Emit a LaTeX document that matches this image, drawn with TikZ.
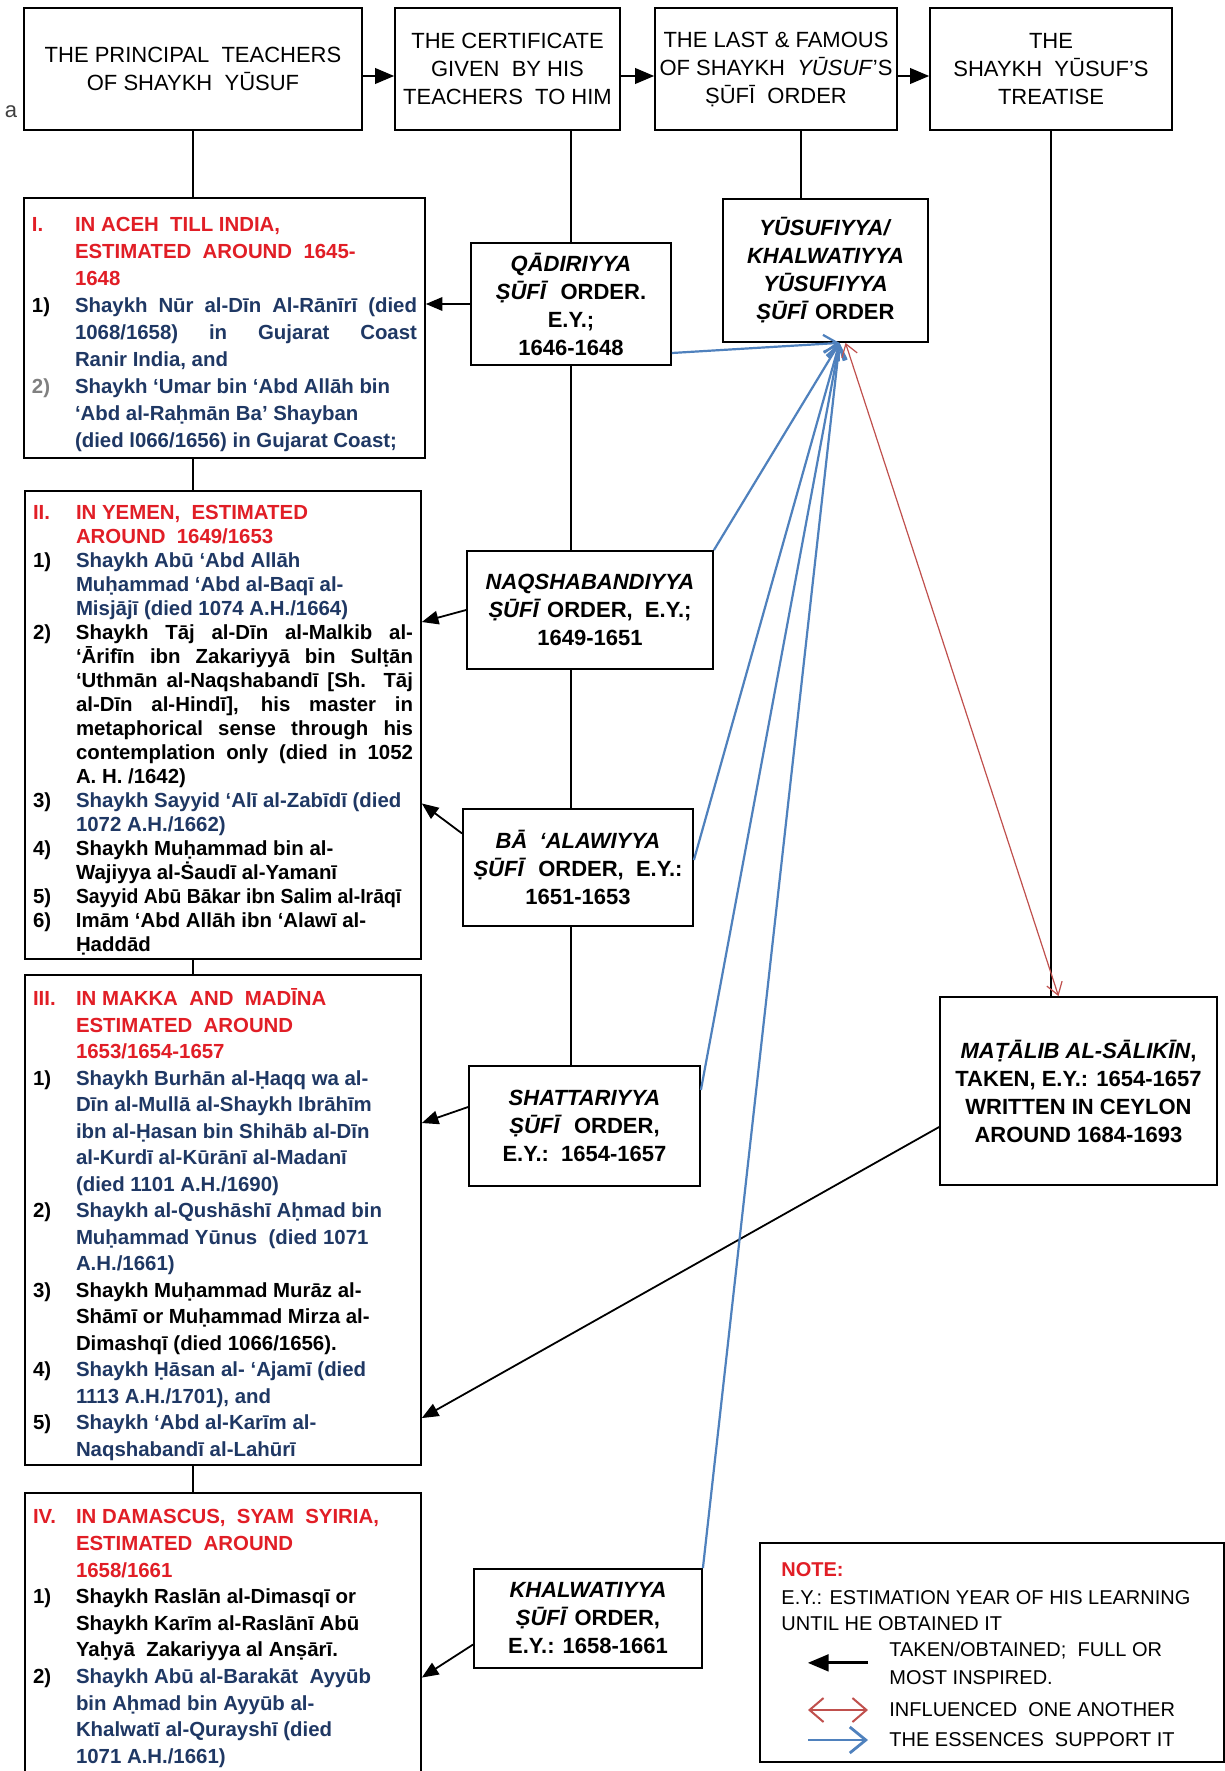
\documentclass[tikz,border=0pt]{standalone}
\usepackage{fontspec}
\setmainfont{Liberation Sans}
\usepackage{xcolor}
\usetikzlibrary{positioning, arrows, arrows.meta, calc}

\definecolor{titlered}{RGB}{225,30,38}
\definecolor{navy}{RGB}{31,56,100}
\definecolor{essblue}{RGB}{79,129,189}
\definecolor{infred}{RGB}{192,80,77}

\newcommand{\itm}[2]{\par\hangindent=21.5pt\hangafter=1\noindent\makebox[21.5pt][l]{#1}{#2}}
\newcommand{\ttl}[2]{\itm{\color{titlered}#1}{\color{titlered}#2}}

\tikzset{
  topbox/.style={draw, line width=0.9pt, minimum height=61pt, align=center, inner sep=2pt, font=\fontsize{11}{14}\selectfont},
  erabox/.style={draw, line width=0.9pt, align=justify, inner xsep=4pt, inner ysep=2pt,
    font=\fontsize{10.2}{#1}\selectfont\bfseries,
    execute at begin node={\tolerance=10000\hyphenpenalty=10000\exhyphenpenalty=10000}},
  orderbox/.style={draw, line width=0.9pt, align=center, inner sep=2pt, font=\fontsize{11}{14}\selectfont\bfseries},
  notetext/.style={inner sep=0pt, align=left, font=\fontsize{10}{14}\selectfont},
  link/.style={-, line width=0.6pt},
  flow/.style={line width=1.2pt},
  taken/.style={line width=0.9pt},
  essence/.style={->, >={Straight Barb[length=7pt,width=9pt]}, draw=essblue, line width=1.1pt},
  influence/.style={<->, >={Straight Barb[length=6pt,width=8pt]}, draw=infred, line width=0.6pt}
}

\begin{document}
\begin{tikzpicture}[->, >=triangle 45, x=0.5pt, y=-0.5pt]
\fill[white] (0,0) rectangle (1225,1771);
\useasboundingbox (0,0) rectangle (1225,1771);

\node[topbox, minimum width=169pt] (principal) at (193,69) {THE PRINCIPAL\ \ TEACHERS\\OF SHAYKH\ \ YŪSUF};
\node[topbox, minimum width=112.5pt] (certificate) at (507.5,69) {THE CERTIFICATE\\GIVEN\ \ BY HIS\\TEACHERS\ \ TO HIM};
\node[topbox, minimum width=121pt] (lastorder) at (776,69) {THE LAST \& FAMOUS\\OF SHAYKH\ \ \textit{YŪSUF}'S\\ṢŪFĪ\ \ ORDER};
\node[topbox, minimum width=121pt] (treatise) at (1051,69) {THE\\SHAYKH\ \ YŪSUF'S\\TREATISE};
\node[font=\fontsize{11}{13}\selectfont, text=darkgray, inner sep=0pt] (mark) at (11,112) {a};

\node[erabox=13.5pt, text width=192.5pt, minimum height=130pt] (eraI) at (224.5,328) {%
\ttl{I.}{IN ACEH\ \ TILL INDIA,\newline ESTIMATED\ \ AROUND\ \ 1645-\newline 1648}
\itm{1)}{\color{navy}Shaykh Nūr al-Dīn Al-Rānīrī (died\linebreak 1068/1658) in Gujarat Coast\linebreak Ranir India, and}
\itm{\color{gray}2)}{\color{navy}Shaykh ‘Umar bin ‘Abd Allāh bin\newline ‘Abd al-Raḥmān Ba’ Shayban\newline (died l066/1656) in Gujarat Coast;}\par};

\node[erabox=12pt, text width=190pt, minimum height=232pt] (eraII) at (223,725) {%
\ttl{II.}{IN YEMEN,\ \ ESTIMATED\newline AROUND\ \ 1649/1653}
\itm{1)}{\color{navy}Shaykh Abū ‘Abd Allāh\newline Muḥammad ‘Abd al-Baqī al-\newline Misjājī (died 1074 A.H./1664)}
\itm{2)}{Shaykh Tāj al-Dīn al-Malkib al-\linebreak ‘Ārifīn ibn Zakariyyā bin Sulṭān\linebreak ‘Uthmān al-Naqshabandī [Sh. Tāj\linebreak al-Dīn al-Hindī], his master in\linebreak metaphorical sense through his\linebreak contemplation only (died in 1052\linebreak A. H. /1642)}
\itm{3)}{\color{navy}Shaykh Sayyid ‘Alī al-Zabīdī (died\newline 1072 A.H./1662)}
\itm{4)}{Shaykh Muḥammad bin al-\newline Wajiyya al-Ṡaudī al-Yamanī}
\itm{5)}{\scalebox{0.95}[1]{Sayyid Abū Bākar ibn Salim al-Irāqī}}
\itm{6)}{Imām ‘Abd Allāh ibn ‘Alawī al-\newline Ḥaddād}\par};

\node[erabox=13.25pt, text width=190pt, minimum height=242pt] (eraIII) at (223,1220) {%
\ttl{III.}{IN MAKKA\ \ AND\ \ MADĪNA\newline ESTIMATED\ \ AROUND\newline 1653/1654-1657}
\itm{1)}{\color{navy}Shaykh Burhān al-Ḥaqq wa al-\newline Dīn al-Mullā al-Shaykh Ibrāhīm\newline ibn al-Ḥasan bin Shihāb al-Dīn\newline al-Kurdī al-Kūrānī al-Madanī\newline (died 1101 A.H./1690)}
\itm{2)}{\color{navy}Shaykh al-Qushāshī Aḥmad bin\newline Muḥammad Yūnus\ \ (died 1071\newline A.H./1661)}
\itm{3)}{Shaykh Muḥammad Murāz al-\newline Shāmī or Muḥammad Mirza al-\newline Dimashqī (died 1066/1656).}
\itm{4)}{\color{navy}Shaykh Ḥāsan al- ‘Ajamī (died\newline 1113 A.H./1701), and}
\itm{5)}{\color{navy}Shaykh ‘Abd al-Karīm al-\newline Naqshabandī al-Lahūrī}\par};

\node[erabox=13.3pt, text width=190pt, minimum height=146.5pt] (eraIV) at (223,1643.5) {%
\ttl{IV.}{IN DAMASCUS,\ \ SYAM\ \ SYIRIA,\newline ESTIMATED\ \ AROUND\newline 1658/1661}
\itm{1)}{Shaykh Raslān al-Dimasqī or\newline Shaykh Karīm al-Raslānī Abū\newline Yaḥyā\ \ Zakariyya al Anṣārī.}
\itm{2)}{\color{navy}Shaykh Abū al-Barakāt\ \ Ayyūb\newline bin Aḥmad bin Ayyūb al-\newline Khalwatī al-Qurayshī (died\newline 1071 A.H./1661)}\par\hbox{\rule{0pt}{9pt}}};

\node[orderbox, minimum width=100pt, minimum height=61pt] (qadiri) at (571,304) {\textit{QĀDIRIYYA}\\\textit{ṢŪFĪ}\ \ ORDER.\\E.Y.;\\1646-1648};
\node[orderbox, minimum width=102.5pt, minimum height=71.5pt] (yusufi) at (825.5,270.5) {\textit{YŪSUFIYYA/}\\\textit{KHALWATIYYA}\\\textit{YŪSUFIYYA}\\\textit{ṢŪFĪ}\ ORDER};
\node[orderbox, minimum width=123pt, minimum height=59pt] (naqsh) at (590,610) {\textit{NAQSHABANDIYYA}\\\textit{ṢŪFĪ} ORDER,\ \ E.Y.;\\1649-1651};
\node[orderbox, minimum width=115pt, minimum height=58.5pt] (alawi) at (578,867.5) {\textit{BĀ\ \ ‘ALAWIYYA}\\\textit{ṢŪFĪ}\ \ ORDER,\ \ E.Y.:\\1651-1653};
\node[orderbox, minimum width=115.5pt, minimum height=60pt] (shattar) at (584.5,1126) {\textit{SHATTARIYYA}\\\textit{ṢŪFĪ}\ \ ORDER,\\E.Y.:\ \ 1654-1657};
\node[orderbox, minimum width=138.5pt, minimum height=94pt] (matalib) at (1078.5,1091) {\textit{MAṬĀLIB AL-SĀLIKĪN},\\TAKEN, E.Y.: 1654-1657\\WRITTEN IN CEYLON\\AROUND 1684-1693};
\node[orderbox, minimum width=114pt, minimum height=49.5pt] (khalwat) at (588,1618.5) {\textit{KHALWATIYYA}\\\textit{ṢŪFĪ} ORDER,\\E.Y.: 1658-1661};

\node[draw, line width=0.9pt, minimum width=232pt, minimum height=109.5pt, inner sep=0pt] (note) at (992,1652.5) {};
\node[notetext, anchor=west, text=titlered, font=\fontsize{10}{14}\selectfont\bfseries] (notehead) at (781,1570) {NOTE:};
\node[notetext, anchor=base west, font=\fontsize{10}{13}\selectfont] (notedef) at (781,1630) {E.Y.: ESTIMATION YEAR OF HIS LEARNING\\UNTIL HE OBTAINED IT};
\node[notetext, anchor=base west] (takenlbl) at (889,1684) {TAKEN/OBTAINED;\ \ FULL OR\\MOST INSPIRED.};
\node[notetext, anchor=west] (inflbl) at (889,1710) {INFLUENCED\ \ ONE ANOTHER};
\node[notetext, anchor=west] (esslbl) at (889,1740) {THE ESSENCES\ \ SUPPORT IT};

\draw[flow] ([yshift=-3.5pt]principal.east) -- ([yshift=-3.5pt]certificate.west);
\draw[flow] ([yshift=-3.5pt]certificate.east) -- ([yshift=-3.5pt]lastorder.west);
\draw[flow] ([yshift=-3.5pt]lastorder.east) -- ([yshift=-3.5pt]treatise.west);

\draw[link] (principal.south) -- (principal.south |- eraI.north);
\draw[link] (principal.south |- eraI.south) -- (principal.south |- eraII.north);
\draw[link] (principal.south |- eraII.south) -- (principal.south |- eraIII.north);
\draw[link] (principal.south |- eraIII.south) -- (principal.south |- eraIV.north);
\draw[link] (qadiri.north |- certificate.south) -- (qadiri.north);
\draw[link] (qadiri.south) -- (qadiri.south |- naqsh.north);
\draw[link] (qadiri.south |- naqsh.south) -- (qadiri.south |- alawi.north);
\draw[link] (qadiri.south |- alawi.south) -- (qadiri.south |- shattar.north);
\draw[link] ([xshift=12.5pt]lastorder.south) -- ([xshift=12.5pt]lastorder.south |- yusufi.north);
\draw[link] (treatise.south) -- (treatise.south |- matalib.north);

\draw[taken] (qadiri.west) -- (qadiri.west -| eraI.east);
\draw[taken] (naqsh.west) -- ($(eraII.east |- naqsh.west)+(0,12)$);
\draw[taken] ($(alawi.west)+(0,-34)$) -- ($(eraII.east |- alawi.west)+(0,-64)$);
\draw[taken] ($(shattar.west)+(0,-19)$) -- ($(eraIII.east |- shattar.west)+(0,-3)$);
\draw[taken] ($(matalib.west)+(0,36)$) -- ($(eraIII.east)+(0,198)$);
\draw[taken] ($(khalwat.west)+(0,26)$) -- ($(eraIV.east |- khalwat.west)+(0,59)$);

\coordinate (hub) at ([xshift=7pt]yusufi.south);
\draw[essence] ($(qadiri.east)+(0,49)$) -- (hub);
\draw[essence] (naqsh.north east) -- (hub);
\draw[essence] ($(alawi.east)+(0,-7.5)$) -- (hub);
\draw[essence] ($(shattar.east)+(0,-36)$) -- (hub);
\draw[essence] (khalwat.north east) -- (hub);
\draw[influence] ([xshift=10pt]yusufi.south) -- ([xshift=-10pt]matalib.north);

\draw[taken, line width=1.4pt] ([xshift=-10.5pt]takenlbl.west) -- ([xshift=-40.5pt]takenlbl.west);
\draw[influence, line width=1pt, >={Straight Barb[length=7pt,width=12pt]}] ([xshift=-40.5pt]inflbl.west) -- ([xshift=-10.5pt]inflbl.west);
\draw[essence, line width=1.4pt, >={Straight Barb[length=8pt,width=13pt]}] ([xshift=-40.5pt]esslbl.west) -- ([xshift=-10.5pt]esslbl.west);
\end{tikzpicture}
\end{document}
